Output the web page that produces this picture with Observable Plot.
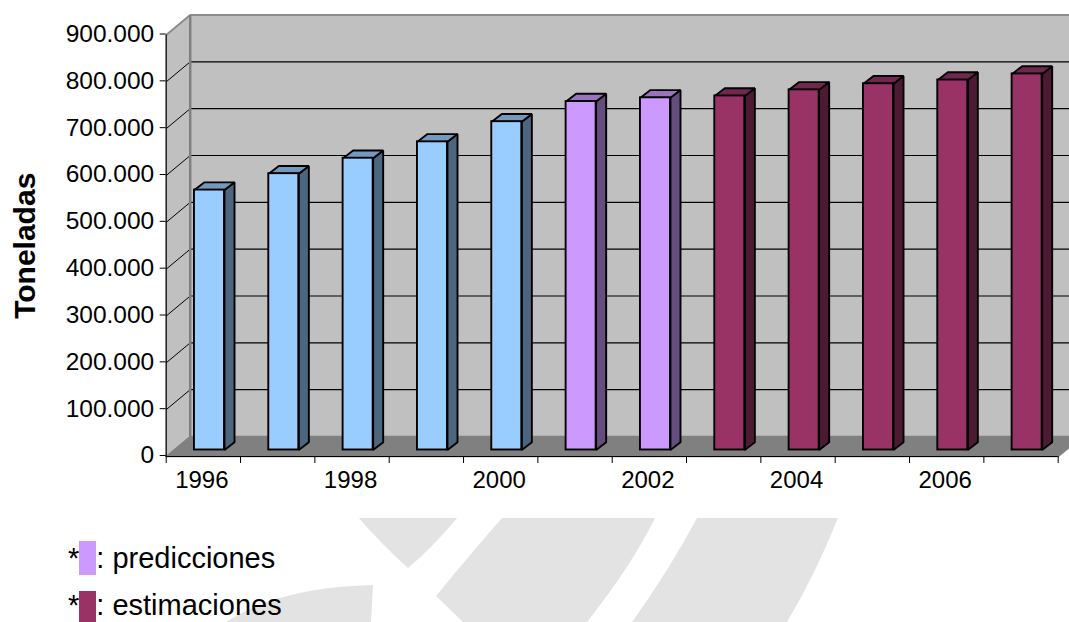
<!DOCTYPE html>
<html lang="es">
<head>
<meta charset="utf-8">
<title>Toneladas por año</title>
<script src="https://cdn.jsdelivr.net/npm/d3@7"></script>
<script src="https://cdn.jsdelivr.net/npm/@observablehq/plot@0.6"></script>
<style>
  html, body { margin: 0; padding: 0; background: #fff; overflow: hidden; width: 1069px; height: 622px; }
  #chart svg { display: block; }
  #pie { position: relative; width: 1069px; height: 104px; overflow: hidden; font-family: "Liberation Sans", Arial, sans-serif; color: #000; }
  #pie svg.marca { position: absolute; left: 0; top: 0; }
  .leyenda { position: absolute; font-size: 29px; line-height: 26px; left: 68px; white-space: nowrap; }
  .muestra { position: absolute; left: 79px; width: 17px; height: 34px; }
</style>
</head>
<body>
<div id="chart"></div>
<div id="pie">
  <svg class="marca" width="1069" height="104" viewBox="0 518 1069 104">
    <g fill="#e3e3e3">
      <path d="M359 518 L457 518 Q434 546 408 568 Q382 545 359 518 Z"/>
      <path d="M502 518 L655 518 Q632 565 587 622 L463 622 L436 596 Q472 552 502 518 Z"/>
      <path d="M697 518 L838 518 Q815 575 787 622 L632 622 Q668 572 697 518 Z"/>
      <path d="M226 622 Q280 587 373 585 L371 622 Z"/>
    </g>
  </svg>
  <div class="muestra" style="top:23px;background:#cc99ff"></div>
  <div class="muestra" style="top:73px;height:31px;background:#993366"></div>
  <div class="leyenda" style="top:27px">*<span style="margin-left:17px">: predicciones</span></div>
  <div class="leyenda" style="top:74px">*<span style="margin-left:17px">: estimaciones</span></div>
</div>
<script>
// Producción anual en toneladas
const years = [1996, 1997, 1998, 1999, 2000, 2001, 2002, 2003, 2004, 2005, 2006, 2007];
const toneladas = [555000, 590000, 623000, 658000, 701000, 744000, 752000, 756000, 769000, 782000, 790000, 803000];
const periodo = ["dato", "dato", "dato", "dato", "dato", "prediccion", "prediccion",
                 "estimacion", "estimacion", "estimacion", "estimacion", "estimacion"];
const yTicks = [0, 100000, 200000, 300000, 400000, 500000, 600000, 700000, 800000, 900000];
const labelledYears = [1996, 1998, 2000, 2002, 2004, 2006];

// Colours of the three visible faces of each column
const palette = {
  dato:       {front: "#99ccff", top: "#7399bf", side: "#4d6680"},
  prediccion: {front: "#cc99ff", top: "#9973bf", side: "#664d80"},
  estimacion: {front: "#993366", top: "#732650", side: "#4d1a33"}
};

// Oblique depth, in scale units (x: one unit per category, y: tonnes)
const wallX = 0.323, wallY = 42700;
const barLeft = 0.38, barWidth = 0.404, barX = 0.135, barY = 16500, barBase = 13900;
const yMax = 900000, n = years.length;

const esFormat = d3.formatLocale({decimal: ",", thousands: ".", grouping: [3], currency: ["", ""]}).format(",");

// Closed polygons are stored as rows: one row per vertex, grouped by id
const polygon = (id, fill, pts) => pts.map(([x, y]) => ({id, fill, x, y}));

const walls = [
  ...polygon("left", "#c0c0c0", [[0, 0], [wallX, wallY], [wallX, yMax + wallY], [0, yMax]]),
  ...polygon("back", "#c0c0c0", [[wallX, wallY], [n + wallX, wallY], [n + wallX, yMax + wallY], [wallX, yMax + wallY]]),
  ...polygon("floor", "#808080", [[0, 0], [n, 0], [n + wallX, wallY], [wallX, wallY]])
];

const columns = years.map((year, i) => {
  const colors = palette[periodo[i]];
  const x1 = i + barLeft, x2 = x1 + barWidth;
  const y1 = barBase, y2 = barBase + toneladas[i];
  return {
    year, x1, x2, y1, y2, front: colors.front,
    faces: [
      ...polygon(`s${year}`, colors.side, [[x2, y1], [x2 + barX, y1 + barY], [x2 + barX, y2 + barY], [x2, y2]]),
      ...polygon(`t${year}`, colors.top, [[x1, y2], [x2, y2], [x2 + barX, y2 + barY], [x1 + barX, y2 + barY]])
    ]
  };
});

const gridValues = yTicks.filter((v) => v > 0 && v < yMax);

const chart = Plot.plot({
  width: 1069,
  height: 518,
  marginLeft: 165.7,
  marginRight: 11.3,
  marginTop: 34.5,
  marginBottom: 62,
  style: {fontFamily: '"Liberation Sans", Arial, sans-serif', color: "#000", background: "#fff", overflow: "hidden"},
  x: {type: "linear", domain: [0, n], axis: null},
  y: {type: "linear", domain: [0, yMax], axis: null},
  color: {type: "identity"},
  marks: [
    // Walls and floor
    Plot.line(walls, {x: "x", y: "y", z: "id", fill: "fill", stroke: "fill", curve: "linear-closed"}),
    // Grid on the left and back walls
    Plot.link(gridValues, {x1: () => 0, y1: (v) => v, x2: () => wallX, y2: (v) => v + wallY, stroke: "#000", strokeWidth: 1}),
    Plot.link(gridValues, {x1: () => wallX, y1: (v) => v + wallY, x2: () => n + wallX, y2: (v) => v + wallY, stroke: "#000", strokeWidth: 1.1}),
    // Wall edges
    Plot.link([yMax], {x1: () => 0, y1: (v) => v, x2: () => wallX, y2: (v) => v + wallY, stroke: "#8c8c8c", strokeWidth: 2}),
    Plot.link([yMax], {x1: () => wallX, y1: (v) => v + wallY, x2: () => n + wallX, y2: (v) => v + wallY, stroke: "#8c8c8c", strokeWidth: 2}),
    Plot.link([yMax], {x1: () => wallX, y1: () => wallY, x2: () => wallX, y2: (v) => v + wallY, stroke: "#808080", strokeWidth: 2.5}),
    // Columns
    Plot.line(columns.flatMap((c) => c.faces), {
      x: "x", y: "y", z: "id", fill: "fill", stroke: "#000", strokeWidth: 1.9,
      strokeLinejoin: "miter", curve: "linear-closed"
    }),
    Plot.rect(columns, {x1: "x1", x2: "x2", y1: "y1", y2: "y2", fill: "front", stroke: "#000", strokeWidth: 1.9}),
    // Axes
    Plot.ruleX([0], {y1: 0, y2: yMax, stroke: "#000", strokeWidth: 1.2}),
    Plot.ruleY([0], {x1: 0, x2: n, stroke: "#000", strokeWidth: 1.2}),
    Plot.axisY({ticks: yTicks, tickFormat: esFormat, tickSize: 6, tickPadding: 6, dy: -1, fontSize: 24.5, stroke: "#000", label: null}),
    Plot.axisX({ticks: d3.range(n + 1), text: null, tickSize: 7, stroke: "#000", label: null}),
    Plot.axisX({
      ticks: labelledYears.map((y) => years.indexOf(y) + 0.5),
      tickFormat: (t) => String(years[Math.floor(t)]),
      tickSize: 0, tickPadding: 14, dx: -1.5, fontSize: 24, label: null
    }),
    Plot.text(["Toneladas"], {
      frameAnchor: "left", textAnchor: "middle", dx: -140.5, rotate: -90, fontWeight: "bold", fontSize: 30
    })
  ]
});
document.getElementById("chart").append(chart);
</script>
</body>
</html>
